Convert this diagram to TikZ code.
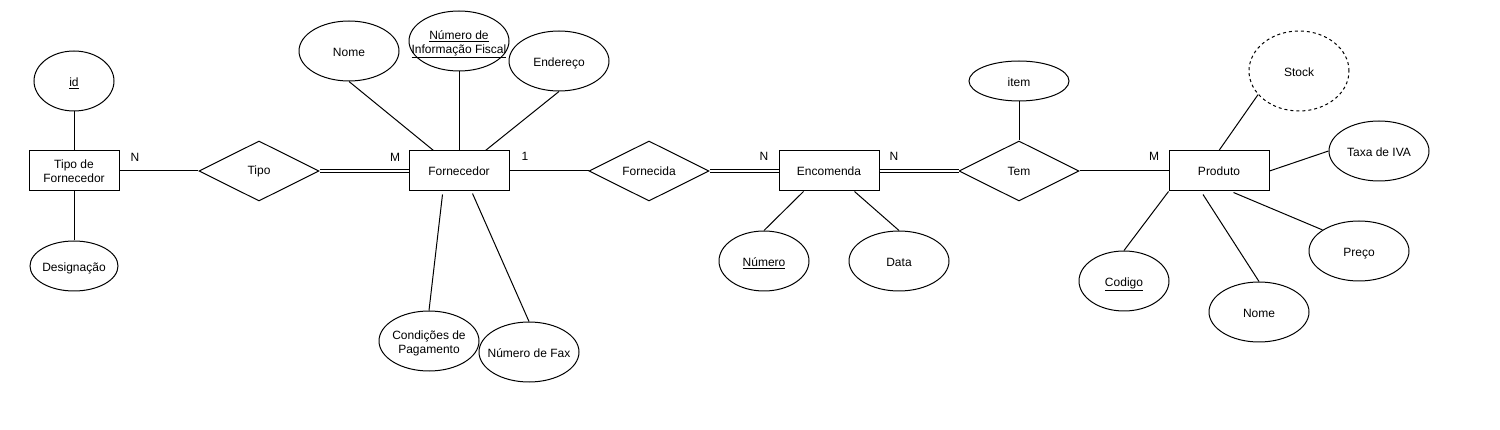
\documentclass[tikz,border=0pt]{standalone}
\usepackage{fontspec}
\setmainfont{Liberation Sans}
\usetikzlibrary{shapes.geometric,calc}
\newcommand{\ztext}[1]{\makebox[0pt]{\raisebox{-6pt}[0pt][0pt]{\begin{tabular}{@{}c@{}}#1\end{tabular}}}}
\begin{document}
\begin{tikzpicture}[x=1pt,y=-1pt,
  every node/.style={font=\fontsize{12}{14}\selectfont, inner sep=0pt},
  ent/.style={draw, line width=1pt, minimum width=100pt, minimum height=40pt, align=center},
  attr/.style={draw, ellipse, line width=1pt, minimum width=100pt, minimum height=60pt},
  rel/.style={draw, diamond, aspect=2, line width=1pt, minimum width=120pt, minimum height=60pt},
  conn/.style={line width=1pt},
  dconn/.style={line width=0.8pt, double, double distance=1.6pt},
  card/.style={}]
\useasboundingbox[fill=white] (0,0) rectangle (1500,430);

% entities, relations, attributes
\node[ent, minimum width=90pt] (tf) at (74,171) {Tipo de\\Fornecedor};
\node[attr, minimum width=80pt] (id) at (74,81) {\ztext{\underline{id}}};
\node[attr, minimum width=88pt, minimum height=50pt] (desig) at (74,266) {\ztext{Designação}};
\node[rel] (tipo) at (259,171) {Tipo};
\node[ent] (forn) at (459,171) {Fornecedor};
\node[attr] (nome) at (349,51) {\ztext{Nome}};
\node[attr] (nif) at (459,41) {\ztext{\underline{Número de}\\\underline{Informação Fiscal}}};
\node[attr] (end) at (559,61) {\ztext{Endereço}};
\node[attr] (cond) at (429,341) {\ztext{Condições de\\Pagamento}};
\node[attr] (fax) at (529,352) {\ztext{Número de Fax}};
\node[rel] (fornecida) at (649,171) {Fornecida};
\node[ent] (enc) at (829,171) {Encomenda};
\node[attr, minimum width=90pt] (num) at (764,261) {\ztext{\underline{Número}}};
\node[attr] (data) at (899,261) {\ztext{Data}};
\node[rel] (tem) at (1019,171) {Tem};
\node[attr, minimum height=40pt] (item) at (1019,81) {\ztext{item}};
\node[ent] (prod) at (1219,171) {Produto};
\node[attr, dashed, minimum height=80pt] (stock) at (1299,71) {\ztext{Stock}};
\node[attr] (iva) at (1379,151) {\ztext{Taxa de IVA}};
\node[attr] (preco) at (1359,251) {\ztext{Preço}};
\node[attr] (pnome) at (1259,312) {\ztext{Nome}};
\node[attr, minimum width=90pt] (cod) at (1124,281) {\ztext{\underline{Codigo}}};

% cardinalities
\node[card] (c1) at (135,157) {N};
\node[card] (c2) at (395,157) {M};
\node[card] (c3) at (525,156) {1};
\node[card] (c4) at (764,156) {N};
\node[card] (c5) at (894,156) {N};
\node[card] (c6) at (1154,156) {M};

% connectors
\draw[conn] (id) -- (tf);
\draw[conn] (tf) -- (desig);
\draw[conn] (tf) -- (tipo);
\draw[dconn] (tipo) -- (forn);
\draw[conn] (nome.south) -- ($(forn.north west)+(25,0)$);
\draw[conn] (nif.south) -- (forn.north);
\draw[conn] (end.south) -- ($(forn.north east)+(-24,0)$);
\draw[conn] ($(forn.south west)+(34,3)$) -- (cond.north);
\draw[conn] ($(forn.south west)+(64,2)$) -- (fax.north);
\draw[conn] (forn) -- (fornecida);
\draw[dconn] (fornecida) -- (enc);
\draw[conn] ($(enc.south west)+(25,0)$) -- (num.north);
\draw[conn] ($(enc.south east)+(-25,0)$) -- (data.north);
\draw[dconn] (enc) -- (tem);
\draw[conn] (item) -- (tem);
\draw[conn] (tem) -- (prod);
\draw[conn] (prod.north) -- (stock.210);
\draw[conn] (prod.east) -- (iva.west);
\draw[conn] ($(prod.south east)+(-36,1)$) -- (preco.150);
\draw[conn] ($(prod.south)+(-16,3)$) -- (pnome.north);
\draw[conn] (prod.south west) -- (cod.north);
\end{tikzpicture}
\end{document}
